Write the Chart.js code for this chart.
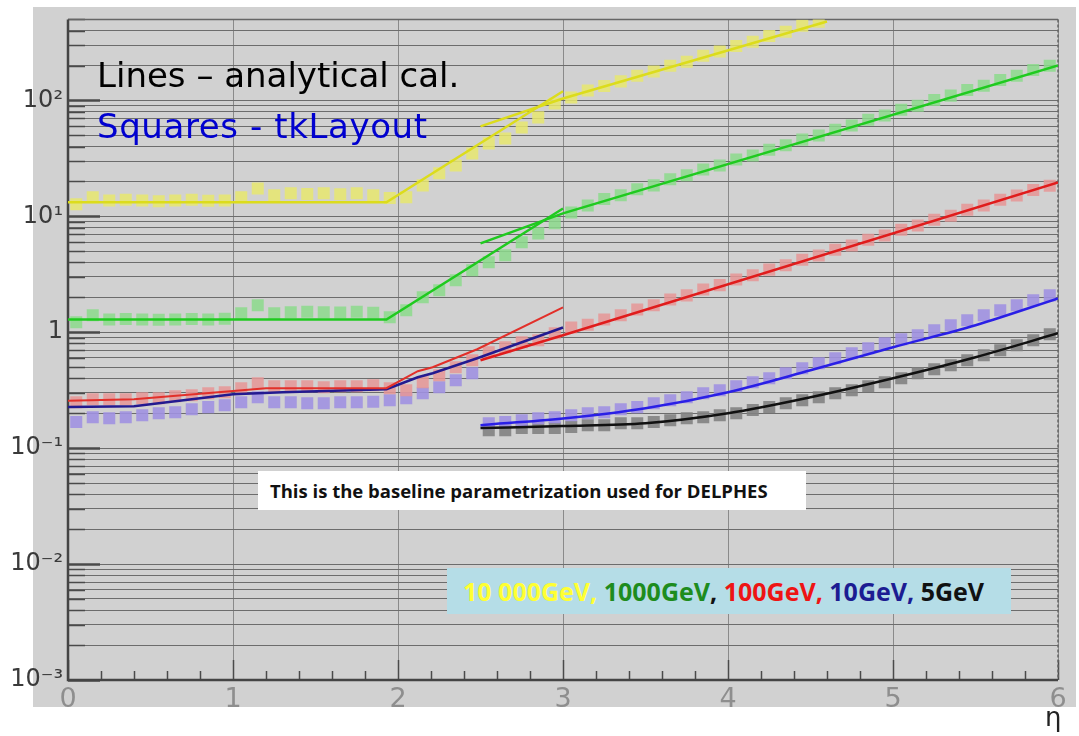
<!DOCTYPE html>
<html>
<head>
<meta charset="utf-8">
<title>pT resolution vs eta</title>
<script src="https://cdn.jsdelivr.net/npm/chart.js@4.4.1/dist/chart.umd.min.js"></script>
<style>
  body { margin: 0; background: #fff; }
  #wrap { position: relative; width: 1079px; height: 736px; overflow: hidden; }
  #wrap canvas { position: absolute; left: 0; top: 0; }
  .note { position: absolute; white-space: nowrap; pointer-events: none; }
  #lines, #squares { left: 97px; font: 34px/34px "DejaVu Sans", sans-serif; }
  #lines { top: 58px; color: #000; }
  #squares { top: 109px; color: #0000d0; letter-spacing: 0.6px; }
  #baseline { left: 258px; top: 471px; width: 536px; height: 39px; padding-left: 12px;
              background: #fff; font: bold 18.5px/39px "Open Sans", sans-serif; color: #111; }
  #energies { left: 447px; top: 568px; width: 548px; height: 46px; padding-left: 16px;
              background: #b5dde7; font: bold 25px/46px "Open Sans", sans-serif; }
  #eta { left: 1045px; top: 702px; font: 26px "DejaVu Sans", sans-serif; color: #222; }
  .c-y { color: #ffff33; } .c-g { color: #1e8c1e; } .c-r { color: #ee1414; }
  .c-b { color: #1c1c92; } .c-k { color: #111; }
</style>
</head>
<body>
<div id="wrap">
  <canvas id="chart" width="1079" height="736"></canvas>
  <div class="note" id="lines">Lines – analytical cal.</div>
  <div class="note" id="squares">Squares - tkLayout</div>
  <div class="note" id="baseline">This is the baseline parametrization used for DELPHES</div>
  <div class="note" id="energies"><span class="c-y">10 000GeV,</span> <span class="c-g">1000GeV</span><span class="c-k">,</span> <span class="c-r">100GeV,</span> <span class="c-b">10GeV,</span> <span class="c-k">5GeV</span></div>
  <div class="note" id="eta">η</div>
</div>
<script>
// eta bin centres of the tkLayout points
const etaBins = [0.05, 0.15, 0.25, 0.35, 0.45, 0.55, 0.65, 0.75, 0.85, 0.95,
  1.05, 1.15, 1.25, 1.35, 1.45, 1.55, 1.65, 1.75, 1.85, 1.95,
  2.05, 2.15, 2.25, 2.35, 2.45, 2.55, 2.65, 2.75, 2.85, 2.95,
  3.05, 3.15, 3.25, 3.35, 3.45, 3.55, 3.65, 3.75, 3.85, 3.95,
  4.05, 4.15, 4.25, 4.35, 4.45, 4.55, 4.65, 4.75, 4.85, 4.95,
  5.05, 5.15, 5.25, 5.35, 5.45, 5.55, 5.65, 5.75, 5.85, 5.95];

// tkLayout squares
const sq10000 = [12.7, 14.6, 13.7, 13.9, 13.7, 13.5, 13.7, 13.9, 13.6, 13.7,
  14.6, 17.4, 15.2, 15.8, 15.6, 15.8, 15.5, 15.8, 15.2, 14.4,
  14.6, 18.5, 23.5, 27.5, 34.9, 42.6, 47.0, 58.5, 71.4, 94.2,
  106, 122, 133, 146, 163, 178, 199, 216, 243, 264,
  295, 321, 360, 392, 440, 478];
const sq1000 = [1.22, 1.40, 1.29, 1.30, 1.29, 1.28, 1.29, 1.30, 1.29, 1.31,
  1.46, 1.71, 1.46, 1.49, 1.50, 1.49, 1.48, 1.50, 1.47, 1.35,
  1.55, 2.00, 2.30, 2.81, 3.42, 4.01, 4.61, 5.97, 7.13, 8.71,
  10.8, 12.4, 14.1, 15.2, 17.1, 18.5, 20.9, 22.6, 25.4, 27.5,
  30.9, 33.5, 37.6, 41.0, 45.9, 49.8, 55.9, 60.7, 68.1, 74.0,
  82.9, 90.1, 101, 110, 123, 134, 150, 163, 183, 199];
const sq100 = [0.249, 0.264, 0.264, 0.264, 0.270, 0.270, 0.281, 0.286, 0.298, 0.304,
  0.329, 0.363, 0.342, 0.342, 0.342, 0.336, 0.342, 0.342, 0.349, 0.329,
  0.316, 0.371, 0.426, 0.499, 0.574, 0.673, 0.742, 0.820, 0.853, 0.980,
  1.10, 1.16, 1.29, 1.40, 1.57, 1.71, 1.92, 2.08, 2.34, 2.55,
  2.85, 3.10, 3.47, 3.78, 4.23, 4.60, 5.16, 5.61, 6.29, 6.84,
  7.66, 8.33, 9.34, 10.1, 11.4, 12.4, 13.9, 15.1, 16.9, 18.4];
const sq10Central = [0.168, 0.185, 0.181, 0.185, 0.192, 0.200, 0.204, 0.217, 0.226, 0.235,
  0.249, 0.275, 0.249, 0.249, 0.244, 0.244, 0.249, 0.249, 0.252, 0.259,
  0.270, 0.298, 0.336, 0.386, 0.443];
const sq10Forward = [0.164, 0.168, 0.174, 0.181, 0.185,
  0.192, 0.200, 0.204, 0.217, 0.226, 0.244, 0.259, 0.275, 0.298, 0.316,
  0.342, 0.371, 0.401, 0.443, 0.489, 0.540, 0.597, 0.659, 0.728, 0.804,
  0.870, 0.942, 1.04, 1.15, 1.27, 1.40, 1.55, 1.71, 1.89, 2.08];
const sq5Forward = [0.143, 0.143, 0.149, 0.149, 0.149,
  0.152, 0.158, 0.158, 0.164, 0.164, 0.168, 0.174, 0.181, 0.185, 0.192,
  0.200, 0.213, 0.226, 0.244, 0.259, 0.275, 0.298, 0.316, 0.342, 0.371,
  0.401, 0.443, 0.480, 0.519, 0.574, 0.634, 0.700, 0.773, 0.853, 0.961];

// analytical calculation, central and forward parts
const etaKnee = [0, 1.93, 3.0];
const line10000Central = [13.2, 13.2, 120];
const line1000Central = [1.29, 1.29, 11.7];
const etaFwdShort = [2.5, 3.0, 4.6];
const line10000Forward = [59.7, 104, 480];
const etaFwd = [2.5, 3.0, 6.0];
const line1000Forward = [5.85, 10.6, 200];
const line100Forward = [0.574, 0.942, 19.6];
const etaRedCentral = [0, 0.4, 1.2, 1.93, 2.12, 2.21, 2.48, 3.0];
const line100Central = [0.256, 0.264, 0.329, 0.329, 0.461, 0.499, 0.714, 1.64];
const etaBlueCentral = [0, 0.4, 1.0, 1.3, 1.93, 2.12, 2.21, 2.48, 3.0];
const line10Central = [0.226, 0.230, 0.292, 0.304, 0.323, 0.409, 0.443, 0.597, 1.10];
const etaCurve = [2.5, 3.0, 3.5, 4.0, 4.5, 5.0, 5.5, 6.0];
const line10Forward = [0.158, 0.180, 0.221, 0.304, 0.470, 0.742, 1.15, 1.96];
const line5Forward = [0.149, 0.155, 0.164, 0.200, 0.275, 0.401, 0.609, 0.98];

// axes
const xMin = 0, xMax = 6;
const yMin = 0.001, yMax = 500;
const yDecades = [0.001, 0.01, 0.1, 1, 10, 100];
const yDecadeLabels = ['10⁻³', '10⁻²', '10⁻¹', '1', '10¹', '10²'];
const ySteps = [1, 2, 3, 4, 5, 6, 7, 8, 9];

const yTicks = [];
yDecades.forEach((d, i) => {
  ySteps.forEach(s => {
    const v = d * s;
    if (v <= yMax) yTicks.push({ value: v, label: s === 1 ? yDecadeLabels[i] : '' });
  });
});

function pts(etas, vals) {
  return vals.map((v, i) => ({ x: etas[i], y: v }));
}

function squares(label, etas, vals, color) {
  return {
    label, data: pts(etas, vals), showLine: false,
    pointStyle: 'rect', pointRadius: 8.5, pointBackgroundColor: color,
    pointBorderWidth: 0, pointHoverRadius: 8.5, order: 2
  };
}

function curve(label, etas, vals, color, width, smooth) {
  return {
    label, data: pts(etas, vals), showLine: true, fill: false,
    borderColor: color, borderWidth: width, pointRadius: 0, pointHoverRadius: 0,
    cubicInterpolationMode: smooth ? 'monotone' : 'default', order: 1
  };
}

// frame, tick marks and grey pad
const frame = {
  id: 'frame',
  beforeDraw(chart) {
    const c = chart.ctx;
    c.save();
    c.fillStyle = '#fff';
    c.fillRect(0, 0, chart.width, chart.height);
    c.fillStyle = '#d1d1d1';
    c.fillRect(33, 7, 1043, 700);
    c.restore();
  },
  beforeDatasetsDraw(chart) {
    const { ctx, chartArea: a, scales: { x, y } } = chart;
    ctx.save();
    ctx.strokeStyle = '#4a4a4a';
    yTicks.forEach(t => {
      const py = Math.round(y.getPixelForValue(t.value)) + 0.5;
      const major = t.label !== '';
      ctx.lineWidth = major ? 2.5 : 1.5;
      ctx.beginPath();
      ctx.moveTo(a.left, py);
      ctx.lineTo(a.left + (major ? 32 : 17), py);
      ctx.stroke();
    });
    ctx.lineWidth = 1.5;
    for (let i = 0; i <= 30; i++) {
      const px = Math.round(x.getPixelForValue(i / 5)) + 0.5;
      ctx.beginPath();
      ctx.moveTo(px, a.bottom);
      ctx.lineTo(px, a.bottom - (i % 5 === 0 ? 20 : 9));
      ctx.stroke();
    }
    // top and right edges
    ctx.strokeStyle = '#666';
    ctx.lineWidth = 1.5;
    ctx.beginPath();
    ctx.moveTo(a.left, a.top);
    ctx.lineTo(a.right, a.top);
    ctx.stroke();
    ctx.setLineDash([3, 2]);
    ctx.beginPath();
    ctx.moveTo(a.right, a.top);
    ctx.lineTo(a.right, a.bottom);
    ctx.stroke();
    ctx.setLineDash([]);
    // axes
    ctx.strokeStyle = '#444';
    ctx.lineWidth = 2.5;
    ctx.beginPath();
    ctx.moveTo(a.left, a.top);
    ctx.lineTo(a.left, a.bottom);
    ctx.lineTo(a.right, a.bottom);
    ctx.stroke();
    ctx.restore();
  }
};

Chart.defaults.font.family = '"DejaVu Sans", sans-serif';

new Chart(document.getElementById('chart'), {
  type: 'scatter',
  data: {
    datasets: [
      curve('10 000GeV central', etaKnee, line10000Central, '#dcdc1c', 2.5),
      curve('10 000GeV forward', etaFwdShort, line10000Forward, '#dcdc1c', 2.5),
      curve('1000GeV central', etaKnee, line1000Central, '#1fca1f', 2.5),
      curve('1000GeV forward', etaFwd, line1000Forward, '#1fca1f', 2.5),
      curve('100GeV central', etaRedCentral, line100Central, '#e2302a', 2),
      curve('100GeV forward', etaFwd, line100Forward, '#e01c1c', 2.5),
      curve('10GeV central', etaBlueCentral, line10Central, '#231a90', 2.5),
      curve('10GeV forward', etaCurve, line10Forward, '#2a1fe6', 2.5, true),
      curve('5GeV forward', etaCurve, line5Forward, '#111111', 2.5, true),
      squares('10 000GeV tkLayout', etaBins, sq10000, 'rgba(232, 232, 110, 0.85)'),
      squares('1000GeV tkLayout', etaBins, sq1000, 'rgba(140, 218, 140, 0.85)'),
      squares('100GeV tkLayout', etaBins, sq100, 'rgba(230, 150, 150, 0.85)'),
      squares('10GeV tkLayout central', etaBins.slice(0, 25), sq10Central, 'rgba(160, 145, 225, 0.9)'),
      squares('10GeV tkLayout forward', etaBins.slice(25), sq10Forward, 'rgba(160, 145, 225, 0.9)'),
      squares('5GeV tkLayout', etaBins.slice(25), sq5Forward, 'rgba(130, 130, 130, 0.9)')
    ]
  },
  options: {
    responsive: false,
    animation: false,
    devicePixelRatio: 1,
    layout: { padding: { top: 19, right: 21, left: 0, bottom: 0 } },
    plugins: { legend: { display: false }, tooltip: { enabled: false } },
    scales: {
      x: {
        type: 'linear', min: xMin, max: xMax,
        ticks: { stepSize: 1, color: '#8e8e8e', padding: 4, font: { size: 27 } },
        grid: { color: '#8a8a8a', lineWidth: 1, drawTicks: false },
        border: { display: false },
        afterFit: s => { s.height = 56; }
      },
      y: {
        type: 'logarithmic', min: yMin, max: yMax,
        afterBuildTicks: s => { s.ticks = yTicks.map(t => ({ value: t.value })); },
        ticks: {
          autoSkip: false, color: '#3a3a3a', padding: 5, font: { size: 24 },
          callback: (v, i) => yTicks[i] ? yTicks[i].label : ''
        },
        grid: { color: '#6c6c6c', lineWidth: 1, drawTicks: false },
        border: { display: false },
        afterFit: s => { s.width = 68; }
      }
    }
  },
  plugins: [frame]
});
</script>
</body>
</html>
